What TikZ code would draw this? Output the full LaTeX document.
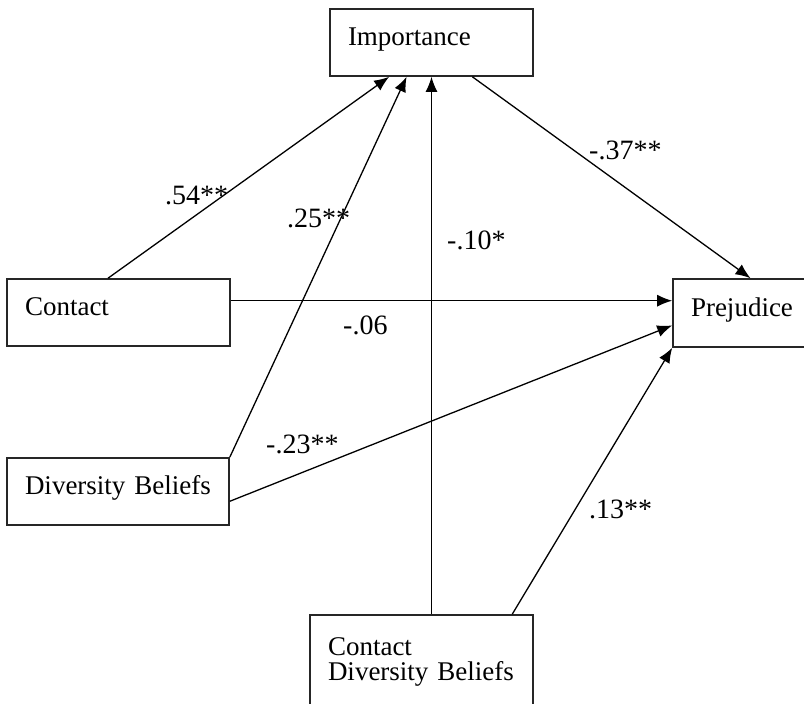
\documentclass[tikz,border=0pt]{standalone}
\usepackage{fontspec}
\setmainfont{Liberation Serif}
\usepackage{tikz}
\usetikzlibrary{arrows.meta,positioning,calc}

\begin{document}
\begin{tikzpicture}[x=1pt,y=-1pt,>={Latex[length=15pt,width=12pt]},
  box/.style={draw=black!85,line width=1.6pt,inner xsep=18pt,inner ysep=0pt,align=left,
    font=\fontsize{27pt}{25pt}\selectfont,minimum height=67pt,text height=18pt,text depth=12pt},
  coef/.style={inner sep=0pt,anchor=base west,font=\fontsize{28pt}{30pt}\selectfont},
  path/.style={->,line width=1.3pt}]
  \useasboundingbox (0,0) rectangle (804,704);
  \node[box,minimum width=203pt,text width=167pt] (imp) at (431.5,42.5) {Importance};
  \node[box,minimum width=223pt,text width=187pt] (contact) at (118.5,312.5) {Contact};
  \node[box,minimum width=222pt,text width=186pt] (div) at (118,491.5) {Diversity Beliefs};
  \node[box,minimum width=155pt,minimum height=68pt,text width=119pt] (prej) at (750.5,313) {Prejudice};
  \node[box,minimum width=223pt,minimum height=99pt,text width=187pt,text depth=37pt] (ixn) at (421.5,664.5) {Contact\\Diversity Beliefs};
  \draw[path] (contact.107) -- (imp.219);
  \draw[path] (div.north east) -- (imp.234);
  \draw[path] (imp.south |- ixn.north) -- (imp.south);
  \draw[path] (imp.-40) -- (prej.north);
  \draw[path] (contact.6) -- (contact.6 -| prej.west);
  \draw[path] (div.-5) -- (prej.189);
  \draw[path] (ixn.29) -- (prej.south west);
  \node[coef] (c54) at (165,204) {.54**};
  \node[coef] (c25) at (287,227) {.25**};
  \node[coef] (c10) at (447,249) {-.10*};
  \node[coef] (c37) at (589,159) {-.37**};
  \node[coef] (c06) at (343,334) {-.06};
  \node[coef] (c23) at (266,453) {-.23**};
  \node[coef] (c13) at (589,518) {.13**};
\end{tikzpicture}
\end{document}
